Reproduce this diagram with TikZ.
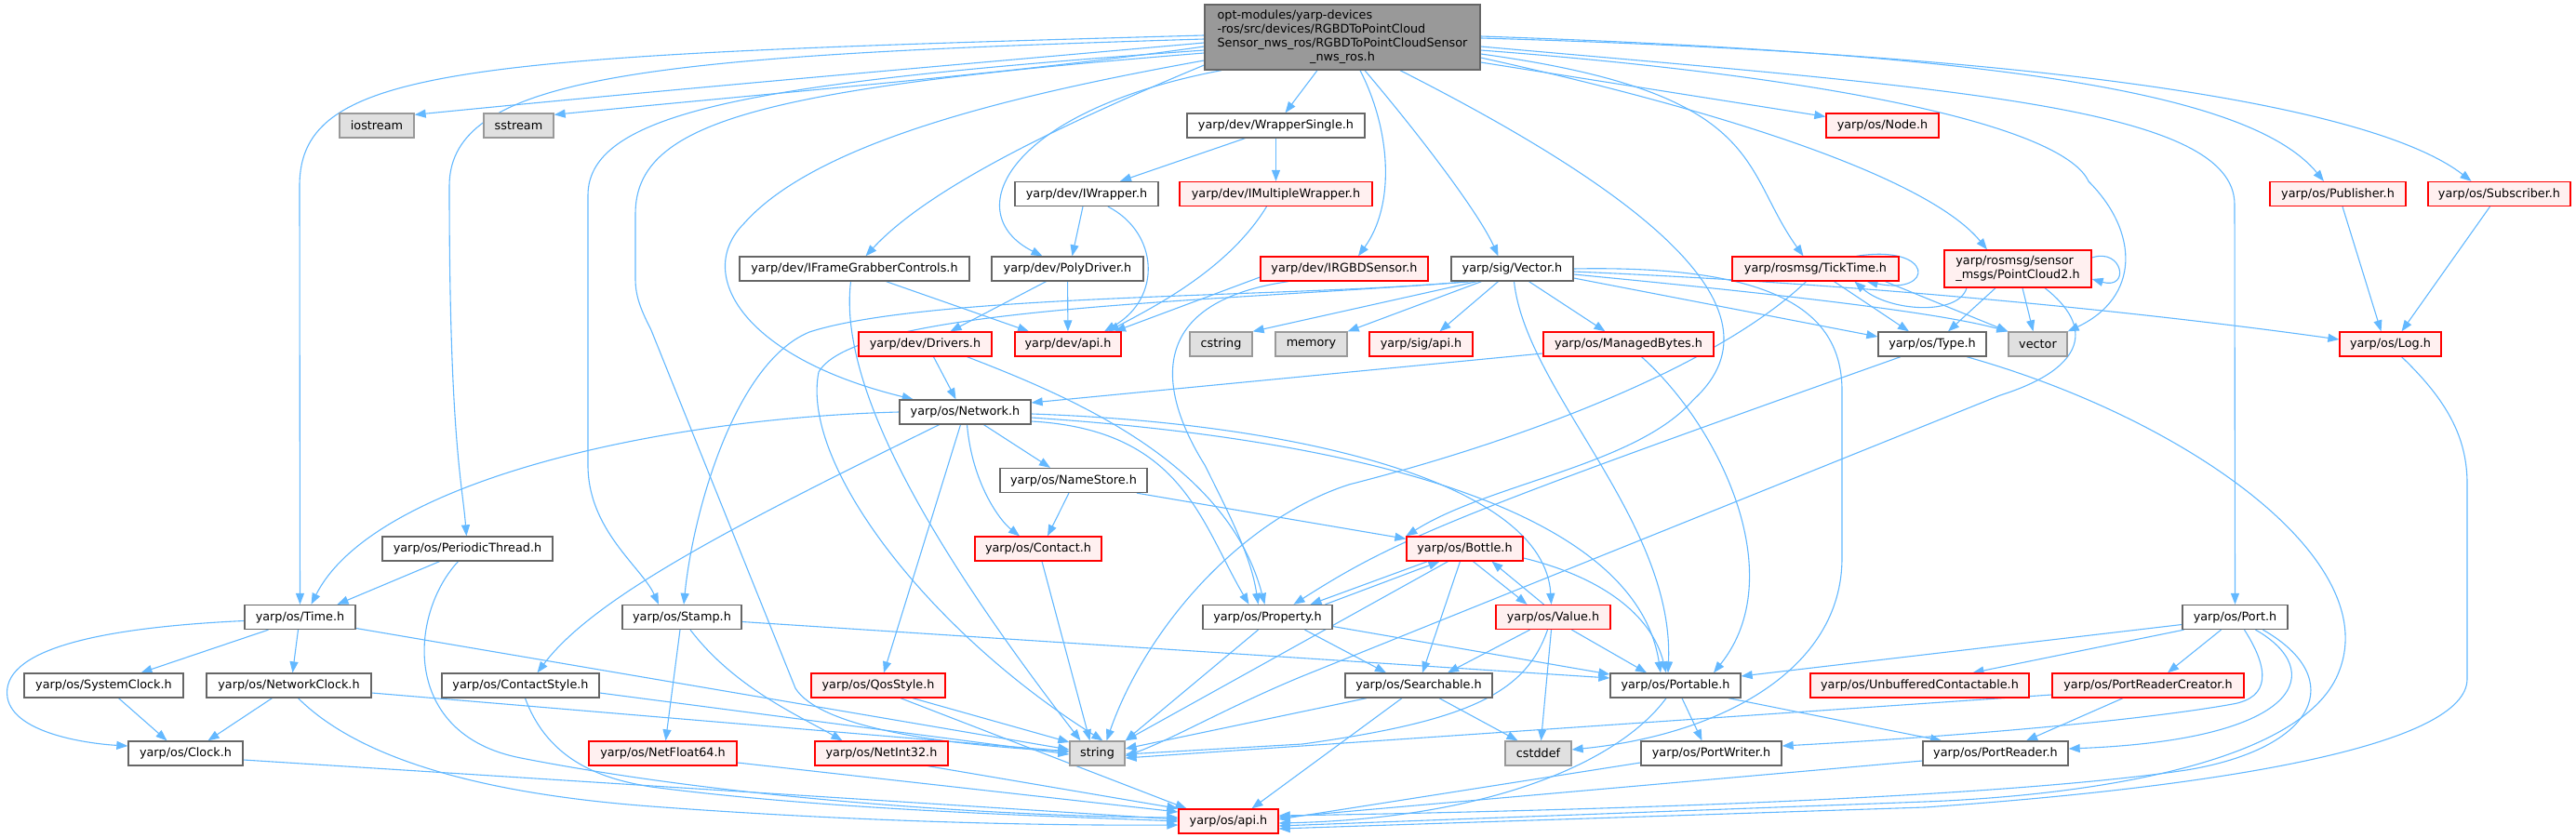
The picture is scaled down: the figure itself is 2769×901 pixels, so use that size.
\documentclass[tikz,border=0pt]{standalone}
\usepackage{fontspec}
\setmainfont{DejaVu Sans}
\usetikzlibrary{arrows.meta}
\pgfdeclarelayer{bg}
\pgfsetlayers{bg,main}
\definecolor{edgec}{HTML}{63B8FF}
\definecolor{nborder}{HTML}{666666}
\definecolor{gborder}{HTML}{999999}
\definecolor{gfill}{HTML}{E0E0E0}
\definecolor{rfill}{HTML}{FFF0F0}
\definecolor{rborder}{HTML}{FF0000}
\definecolor{rootfill}{HTML}{999999}
\tikzset{
  base/.style={rectangle, line width=1.3pt, minimum height=26pt, inner xsep=2pt, inner ysep=0pt, font=\fontsize{12.8pt}{15pt}\selectfont, text=black},
  nbox/.style={base, draw=nborder, fill=white},
  rbox/.style={base, draw=rborder, fill=rfill},
  gbox/.style={base, draw=gborder, fill=gfill},
  rootbox/.style={base, draw=nborder, fill=rootfill, minimum height=70pt},
  edg/.style={draw=edgec, line width=1.1pt, -{Triangle[length=12pt,width=9pt]}},
}
\begin{document}
\begin{tikzpicture}[x=1pt,y=-1pt]
\useasboundingbox (0,0) rectangle (2769,901);
% ---- nodes
\node[rootbox, minimum width=296pt] (root) at (1443,40) {\begin{tabular}{@{}l@{}}opt-modules/yarp-devices\\-ros/src/devices/RGBDToPointCloud\\Sensor\_nws\_ros/RGBDToPointCloudSensor\\\multicolumn{1}{@{}c@{}}{\_nws\_ros.h}\end{tabular}};
\node[gbox, minimum width=80pt] (iostream) at (405,135) {iostream};
\node[gbox, minimum width=75pt] (sstream) at (557.5,135) {sstream};
\node[nbox, minimum width=191pt] (wsingle) at (1371.5,135) {yarp/dev/WrapperSingle.h};
\node[rbox, minimum width=121pt] (nodeh) at (2023.5,135) {yarp/os/Node.h};
\node[nbox, minimum width=154pt] (iwrap) at (1168,208.5) {yarp/dev/IWrapper.h};
\node[rbox, minimum width=207pt] (imulti) at (1371.5,208.5) {yarp/dev/IMultipleWrapper.h};
\node[rbox, minimum width=146pt] (pub) at (2513,208.5) {yarp/os/Publisher.h};
\node[rbox, minimum width=153pt] (sub) at (2686.5,208.5) {yarp/os/Subscriber.h};
\node[nbox, minimum width=247pt] (ifgc) at (918.5,289) {yarp/dev/IFrameGrabberControls.h};
\node[nbox, minimum width=163pt] (poly) at (1147.5,289) {yarp/dev/PolyDriver.h};
\node[rbox, minimum width=180pt] (irgbd) at (1445,289) {yarp/dev/IRGBDSensor.h};
\node[nbox, minimum width=131pt] (vec) at (1625.5,289) {yarp/sig/Vector.h};
\node[rbox, minimum width=179pt] (tick) at (1951.5,289) {yarp/rosmsg/TickTime.h};
\node[rbox, minimum width=158pt, minimum height=40pt] (pc2) at (2169,289) {\begin{tabular}{@{}l@{}}yarp/rosmsg/sensor\\\multicolumn{1}{@{}c@{}}{\_msgs/PointCloud2.h}\end{tabular}};
\node[rbox, minimum width=143pt] (drivers) at (994.5,370) {yarp/dev/Drivers.h};
\node[rbox, minimum width=114pt] (devapi) at (1148,370) {yarp/dev/api.h};
\node[gbox, minimum width=67pt] (cstring) at (1312.5,370) {cstring};
\node[gbox, minimum width=77pt] (memory) at (1409.5,370) {memory};
\node[rbox, minimum width=111pt] (sigapi) at (1527.5,370) {yarp/sig/api.h};
\node[rbox, minimum width=183pt] (mbytes) at (1750.5,370) {yarp/os/ManagedBytes.h};
\node[nbox, minimum width=116pt] (type) at (2077,370) {yarp/os/Type.h};
\node[gbox, minimum width=63pt] (vector) at (2190.5,370) {vector};
\node[rbox, minimum width=109pt] (log) at (2569.5,370) {yarp/os/Log.h};
\node[nbox, minimum width=141pt] (network) at (1037.5,443) {yarp/os/Network.h};
\node[nbox, minimum width=158pt] (namestore) at (1154,516.5) {yarp/os/NameStore.h};
\node[nbox, minimum width=183pt] (pthread) at (502.5,590) {yarp/os/PeriodicThread.h};
\node[rbox, minimum width=136pt] (contact) at (1116,590) {yarp/os/Contact.h};
\node[rbox, minimum width=125pt] (bottle) at (1574.5,590) {yarp/os/Bottle.h};
\node[nbox, minimum width=119pt] (time) at (322.5,663.5) {yarp/os/Time.h};
\node[nbox, minimum width=128pt] (stamp) at (733,663.5) {yarp/os/Stamp.h};
\node[nbox, minimum width=139pt] (property) at (1362.5,663.5) {yarp/os/Property.h};
\node[rbox, minimum width=123pt] (value) at (1669.5,663.5) {yarp/os/Value.h};
\node[nbox, minimum width=113pt] (port) at (2402.5,663.5) {yarp/os/Port.h};
\node[nbox, minimum width=171pt] (sysclock) at (111.5,737) {yarp/os/SystemClock.h};
\node[nbox, minimum width=177pt] (netclock) at (310.5,737) {yarp/os/NetworkClock.h};
\node[nbox, minimum width=169pt] (cstyle) at (559.5,737) {yarp/os/ContactStyle.h};
\node[rbox, minimum width=144pt] (qos) at (944,737) {yarp/os/QosStyle.h};
\node[nbox, minimum width=158pt] (searchable) at (1525,737) {yarp/os/Searchable.h};
\node[nbox, minimum width=140pt] (portable) at (1801,737) {yarp/os/Portable.h};
\node[rbox, minimum width=235pt] (unbuf) at (2063.5,737) {yarp/os/UnbufferedContactable.h};
\node[rbox, minimum width=206pt] (prc) at (2309,737) {yarp/os/PortReaderCreator.h};
\node[nbox, minimum width=123pt] (clock) at (199.5,810) {yarp/os/Clock.h};
\node[rbox, minimum width=159pt] (nf64) at (712.5,810) {yarp/os/NetFloat64.h};
\node[rbox, minimum width=143pt] (ni32) at (947.5,810) {yarp/os/NetInt32.h};
\node[gbox, minimum width=59pt] (string) at (1179.5,810) {string};
\node[gbox, minimum width=71pt] (cstddef) at (1653.5,810) {cstddef};
\node[nbox, minimum width=151pt] (pwriter) at (1839.5,810) {yarp/os/PortWriter.h};
\node[nbox, minimum width=156pt] (preader) at (2145,810) {yarp/os/PortReader.h};
\node[rbox, minimum width=107pt] (osapi) at (1320.5,883) {yarp/os/api.h};
% ---- edges
\begin{pgfonlayer}{bg}
% root
\draw[edg] ([yshift=-6pt]root.west) .. controls (1000,72) and (700,98) .. ([yshift=-2pt]iostream.north east);
\draw[edg] ([yshift=-10pt]root.west) .. controls (1100,78) and (800,103) .. ([yshift=-2pt]sstream.north east);
\draw[edg] ([yshift=2pt]root.west) .. controls (500,60) and (322,70) .. (322,200) -- (time);
\draw[edg] ([yshift=-2pt]root.west) .. controls (700,60) and (483,80) .. (483,200) .. controls (483,470) and (497,520) .. (pthread);
\draw[edg] ([yshift=-14pt]root.west) .. controls (820,88) and (632,118) .. (632,210) -- (632,500) .. controls (632,570) and (690,610) .. ([xshift=-25pt]stamp.north);
\draw[edg] ([yshift=-17pt]root.west) .. controls (820,95) and (683,130) .. (683,230) -- (683,300) .. controls (683,320) and (690,335) .. (700,355) -- (855,740) .. controls (880,780) and (1000,800) .. ([yshift=2pt]string.west);
\draw[edg] ([yshift=-25pt]root.west) .. controls (1100,100) and (880,150) .. (800,240) .. controls (745,295) and (800,385) .. (network);
\draw[edg] ([yshift=-30pt]root.west) .. controls (1150,130) and (1000,200) .. ([xshift=12pt]ifgc.north);
\draw[edg] ([xshift=-130pt]root.south) .. controls (1080,120) and (1030,230) .. ([xshift=-27pt]poly.north);
\draw[edg] ([xshift=-27pt]root.south) -- ([xshift=10pt]wsingle.north);
\draw[edg] ([xshift=19pt]root.south) .. controls (1495,140) and (1500,220) .. ([xshift=15pt]irgbd.north);
\draw[edg] ([xshift=24pt]root.south) .. controls (1530,150) and (1590,230) .. ([xshift=-15pt]vec.north);
\draw[edg] ([xshift=62pt]root.south) .. controls (1750,200) and (1930,330) .. (1820,430) .. controls (1760,500) and (1600,520) .. (bottle.north west);
\draw[edg] ([yshift=-18pt]root.east) .. controls (1900,100) and (1870,180) .. ([xshift=-13pt]tick.north);
\draw[edg] ([yshift=-22pt]root.east) .. controls (1900,130) and (2080,200) .. ([xshift=-33pt]pc2.north);
\draw[edg] ([yshift=-27pt]root.east) -- (nodeh);
\draw[edg] ([yshift=-14pt]root.east) .. controls (2000,85) and (2220,140) .. (2245,195) .. controls (2300,250) and (2300,320) .. (vector.north east);
\draw[edg] ([yshift=-10pt]root.east) .. controls (2100,95) and (2402,115) .. (2402,220) -- (port);
\draw[edg] ([yshift=1pt]root.east) .. controls (2150,58) and (2420,100) .. ([xshift=-15pt]pub.north);
\draw[edg] ([yshift=-1pt]root.east) .. controls (2250,60) and (2560,120) .. ([xshift=-30pt]sub.north);
% wrappers / dev
\draw[edg] ([xshift=-33pt]wsingle.south) -- ([xshift=36pt]iwrap.north);
\draw[edg] (wsingle) -- (imulti);
\draw[edg] ([xshift=-4pt]iwrap.south) -- ([xshift=5pt]poly.north);
\draw[edg] ([xshift=23pt]iwrap.south) .. controls (1245,250) and (1250,320) .. ([xshift=39pt]devapi.north);
\draw[edg] ([xshift=-10pt]imulti.south) .. controls (1320,290) and (1240,330) .. ([xshift=43pt]devapi.north);
\draw[edg] ([xshift=34pt]ifgc.south) -- ([xshift=-42pt]devapi.north);
\draw[edg] ([xshift=-4pt]ifgc.south) .. controls (900,420) and (1010,600) .. ([xshift=-18pt]string.north);
\draw[edg] ([xshift=-23pt]poly.south) -- ([xshift=27pt]drivers.north);
\draw[edg] (poly) -- (devapi);
\draw[edg] ([yshift=-9pt]irgbd.west) -- ([xshift=50pt]devapi.north);
\draw[edg] ([xshift=-60pt]irgbd.south) .. controls (1230,325) and (1245,420) .. (1295,500) .. controls (1325,560) and (1345,600) .. ([xshift=-10pt]property.north);
\draw[edg] ([xshift=9pt]drivers.south) -- ([xshift=-10pt]network.north);
\draw[edg] ([xshift=45pt]drivers.south) .. controls (1160,430) and (1320,500) .. ([xshift=-3pt]property.north);
% vector
\draw[edg] ([xshift=-38pt]vec.south) -- (cstring.north east);
\draw[edg] ([xshift=-33pt]vec.south) -- (memory.north east);
\draw[edg] ([xshift=-15pt]vec.south) -- ([xshift=20pt]sigapi.north);
\draw[edg] ([xshift=18pt]vec.south) -- ([xshift=-25pt]mbytes.north);
\draw[edg] ([yshift=-10pt]vec.east) -- ([yshift=8pt]type.west);
\draw[edg] ([yshift=-6pt]vec.east) .. controls (1900,315) and (2080,335) .. (vector.north west);
\draw[edg] ([yshift=-3pt]vec.east) .. controls (2000,305) and (2300,335) .. ([yshift=5pt]log.west);
\draw[edg] (vec.east) .. controls (1900,285) and (1980,330) .. (1980,420) -- (1980,600) .. controls (1980,720) and (1850,790) .. ([yshift=4pt]cstddef.east);
\draw[edg] ([xshift=2pt]vec.south) .. controls (1640,420) and (1800,560) .. ([xshift=-8pt]portable.north);
\draw[edg] ([xshift=-47pt]vec.south) .. controls (1400,320) and (1000,315) .. (870,357) .. controls (790,390) and (745,550) .. ([xshift=2pt]stamp.north);
\draw[edg] ([xshift=-44pt]vec.south) .. controls (1300,325) and (920,330) .. (880,400) .. controls (860,500) and (1000,680) .. ([xshift=6pt]string.north);
% ticktime / pointcloud
\draw[edg] ([xshift=44pt]tick.north) .. controls (2080,262) and (2080,318) .. ([xshift=55pt]tick.south);
\draw[edg] ([xshift=20pt]tick.south) -- ([xshift=-25pt]type.north);
\draw[edg] ([xshift=75pt]tick.south) -- (vector.north west);
\draw[edg] ([xshift=-10pt]tick.south) .. controls (1850,390) and (1650,470) .. (1450,521) .. controls (1330,560) and (1230,680) .. ([xshift=10pt]string.north);
\draw[edg] ([yshift=12pt]pc2.east) .. controls (2282,266) and (2290,312) .. ([yshift=-11pt]pc2.east);
\draw[edg] ([xshift=-55pt]pc2.south) .. controls (2105,340) and (2030,335) .. ([xshift=42pt]tick.south);
\draw[edg] ([xshift=-24pt]pc2.south) -- ([xshift=17pt]type.north);
\draw[edg] ([xshift=5pt]pc2.south) -- ([xshift=-5pt]vector.north);
\draw[edg] ([xshift=29pt]pc2.south) .. controls (2250,350) and (2245,395) .. (2150,425) -- (1400,727) .. controls (1320,760) and (1260,795) .. ([yshift=-3pt]string.east);
% managed bytes / type / log
\draw[edg] ([yshift=-10pt]mbytes.west) -- ([yshift=10pt]network.east);
\draw[edg] ([xshift=14pt]mbytes.south) .. controls (1850,460) and (1925,620) .. ([xshift=41pt]portable.north);
\draw[edg] ([xshift=-34pt]type.south) .. controls (1560,555) and (1500,580) .. ([xshift=28pt]property.north);
\draw[edg] ([xshift=37pt]type.south) .. controls (2350,450) and (2560,600) .. (2515,720) .. controls (2480,820) and (2250,855) .. (2069,862) -- ([yshift=-5pt]osapi.east);
\draw[edg] ([xshift=12pt]log.south) .. controls (2630,430) and (2652,470) .. (2652,520) -- (2652,730) .. controls (2652,800) and (2400,845) .. (2069,868) -- ([yshift=-8pt]osapi.east);
\draw[edg] ([xshift=5pt]pub.south) -- ([xshift=-10pt]log.north);
\draw[edg] ([xshift=-10pt]sub.south) -- ([xshift=12pt]log.north);
% network
\draw[edg] (network.west) .. controls (700,450) and (400,520) .. ([xshift=12pt]time.north);
\draw[edg] ([xshift=-28pt]network.south) .. controls (800,560) and (640,640) .. ([xshift=18pt]cstyle.north);
\draw[edg] ([xshift=-5pt]network.south) -- ([xshift=6pt]qos.north);
\draw[edg] ([xshift=2pt]network.south) .. controls (1045,520) and (1075,560) .. ([xshift=-20pt]contact.north);
\draw[edg] ([xshift=20pt]network.south) -- ([xshift=-25pt]namestore.north);
\draw[edg] ([yshift=-10pt]network.east) .. controls (1270,462) and (1290,560) .. ([xshift=-20pt]property.north);
\draw[edg] ([yshift=-2pt]network.east) .. controls (1400,455) and (1660,520) .. ([xshift=-2pt]value.north);
\draw[edg] ([yshift=-6pt]network.east) .. controls (1500,475) and (1760,560) .. ([xshift=-16pt]portable.north);
\draw[edg] ([xshift=-5pt]namestore.south) -- ([xshift=10pt]contact.north);
\draw[edg] ([xshift=68pt]namestore.south) -- (bottle);
\draw[edg] ([xshift=4pt]contact.south) -- ([xshift=-8pt]string.north);
% time & clocks
\draw[edg] ([xshift=-30pt]pthread.south) -- ([xshift=40pt]time.north);
\draw[edg] ([xshift=-10pt]pthread.south) .. controls (440,660) and (430,790) .. (560,815) .. controls (800,862) and (1100,878) .. ([yshift=4pt]osapi.west);
\draw[edg] ([xshift=-34pt]time.south) -- ([xshift=40pt]sysclock.north);
\draw[edg] ([xshift=-2pt]time.south) -- ([xshift=4pt]netclock.north);
\draw[edg] ([yshift=-4pt]time.west) .. controls (100,675) and (0,700) .. (8,750) .. controls (15,790) and (100,800) .. ([yshift=8pt]clock.west);
\draw[edg] ([yshift=-12pt]time.east) -- ([yshift=4pt]string.west);
\draw[edg] ([xshift=16pt]sysclock.south) -- ([xshift=-20pt]clock.north);
\draw[edg] ([xshift=-18pt]netclock.south) -- ([xshift=24pt]clock.north);
\draw[edg] ([yshift=-8pt]netclock.east) -- ([yshift=2pt]string.west);
\draw[edg] ([xshift=10pt]netclock.south) .. controls (380,810) and (500,852) .. (700,867) .. controls (900,882) and (1100,888) .. ([yshift=-4pt]osapi.west);
\draw[edg] ([yshift=-7pt]clock.east) -- ([yshift=2pt]osapi.west);
\draw[edg] ([yshift=-8pt]cstyle.east) -- ([yshift=-1pt]string.west);
\draw[edg] ([xshift=5pt]cstyle.south) .. controls (590,820) and (650,838) .. (700,846) .. controls (900,872) and (1150,878) .. (osapi.west);
% stamp, qos
\draw[edg] ([xshift=-2pt]stamp.south) -- ([xshift=3pt]nf64.north);
\draw[edg] ([xshift=9pt]stamp.south) .. controls (790,740) and (860,770) .. ([xshift=-42pt]ni32.north);
\draw[edg] ([yshift=-5pt]stamp.east) -- ([yshift=8pt]portable.west);
\draw[edg] ([yshift=-10pt]nf64.east) -- ([yshift=10pt]osapi.west);
\draw[edg] ([xshift=50pt]ni32.south) -- (osapi.north west);
\draw[edg] ([xshift=37pt]qos.south) -- ([yshift=12pt]string.west);
\draw[edg] ([xshift=24pt]qos.south) -- ([xshift=-45pt]osapi.north);
% property, bottle, value
\draw[edg] ([xshift=40pt]property.south) -- ([xshift=-35pt]searchable.north);
\draw[edg] ([yshift=-10pt]property.east) -- ([yshift=12pt]portable.west);
\draw[edg] ([xshift=-10pt]property.south) -- (string.north east);
\draw[edg] ([xshift=62pt]property.north) -- ([xshift=-27pt]bottle.south);
\draw[edg] ([xshift=-40pt]bottle.south) -- ([xshift=46pt]property.north);
\draw[edg] ([xshift=-5pt]bottle.south) -- ([xshift=4pt]searchable.north);
\draw[edg] ([xshift=9pt]bottle.south) -- ([xshift=-28pt]value.north);
\draw[edg] ([xshift=-10pt]value.north) -- ([xshift=29pt]bottle.south);
\draw[edg] ([yshift=-10pt]bottle.east) .. controls (1720,620) and (1775,660) .. ([xshift=-10pt]portable.north);
\draw[edg] ([xshift=-18pt]bottle.south) -- (string.north east);
\draw[edg] ([xshift=-25pt]value.south) -- ([xshift=31pt]searchable.north);
\draw[edg] ([xshift=20pt]value.south) -- ([xshift=-31pt]portable.north);
\draw[edg] ([xshift=-2pt]value.south) -- ([xshift=3pt]cstddef.north);
\draw[edg] ([xshift=-6pt]value.south) .. controls (1640,745) and (1580,775) .. (1400,800) -- ([yshift=-1pt]string.east);
% searchable, portable
\draw[edg] ([xshift=22pt]searchable.south) -- ([xshift=-22pt]cstddef.north);
\draw[edg] ([xshift=-56pt]searchable.south) -- ([yshift=5pt]string.east);
\draw[edg] ([xshift=-18pt]searchable.south) -- ([xshift=25pt]osapi.north);
\draw[edg] ([xshift=7pt]portable.south) -- ([xshift=-10pt]pwriter.north);
\draw[edg] ([xshift=57pt]portable.south) -- ([xshift=-58pt]preader.north);
\draw[edg] ([xshift=-10pt]portable.south) .. controls (1740,820) and (1600,880) .. ([yshift=-2pt]osapi.east);
\draw[edg] ([yshift=-10pt]pwriter.west) -- ([yshift=2pt]osapi.east);
\draw[edg] ([yshift=-8pt]preader.west) -- ([yshift=4pt]osapi.east);
% port
\draw[edg] ([yshift=-8pt]port.west) -- ([yshift=10pt]portable.east);
\draw[edg] ([xshift=-55pt]port.south) -- ([xshift=57pt]unbuf.north);
\draw[edg] ([xshift=-15pt]port.south) -- ([xshift=21pt]prc.north);
\draw[edg] ([xshift=10pt]port.south) .. controls (2440,720) and (2440,750) .. (2400,757) .. controls (2300,775) and (2100,792) .. ([yshift=8pt]pwriter.east);
\draw[edg] ([xshift=22pt]port.south) .. controls (2500,720) and (2480,795) .. ([yshift=5pt]preader.east);
\draw[edg] ([xshift=30pt]port.south) .. controls (2525,730) and (2490,805) .. (2350,828) .. controls (2150,858) and (1700,872) .. ([yshift=6pt]osapi.east);
\draw[edg] ([yshift=-10pt]prc.west) -- ([yshift=-5pt]string.east);
\draw[edg] ([xshift=-27pt]prc.south) -- ([xshift=33pt]preader.north);
\end{pgfonlayer}
\end{tikzpicture}
\end{document}
